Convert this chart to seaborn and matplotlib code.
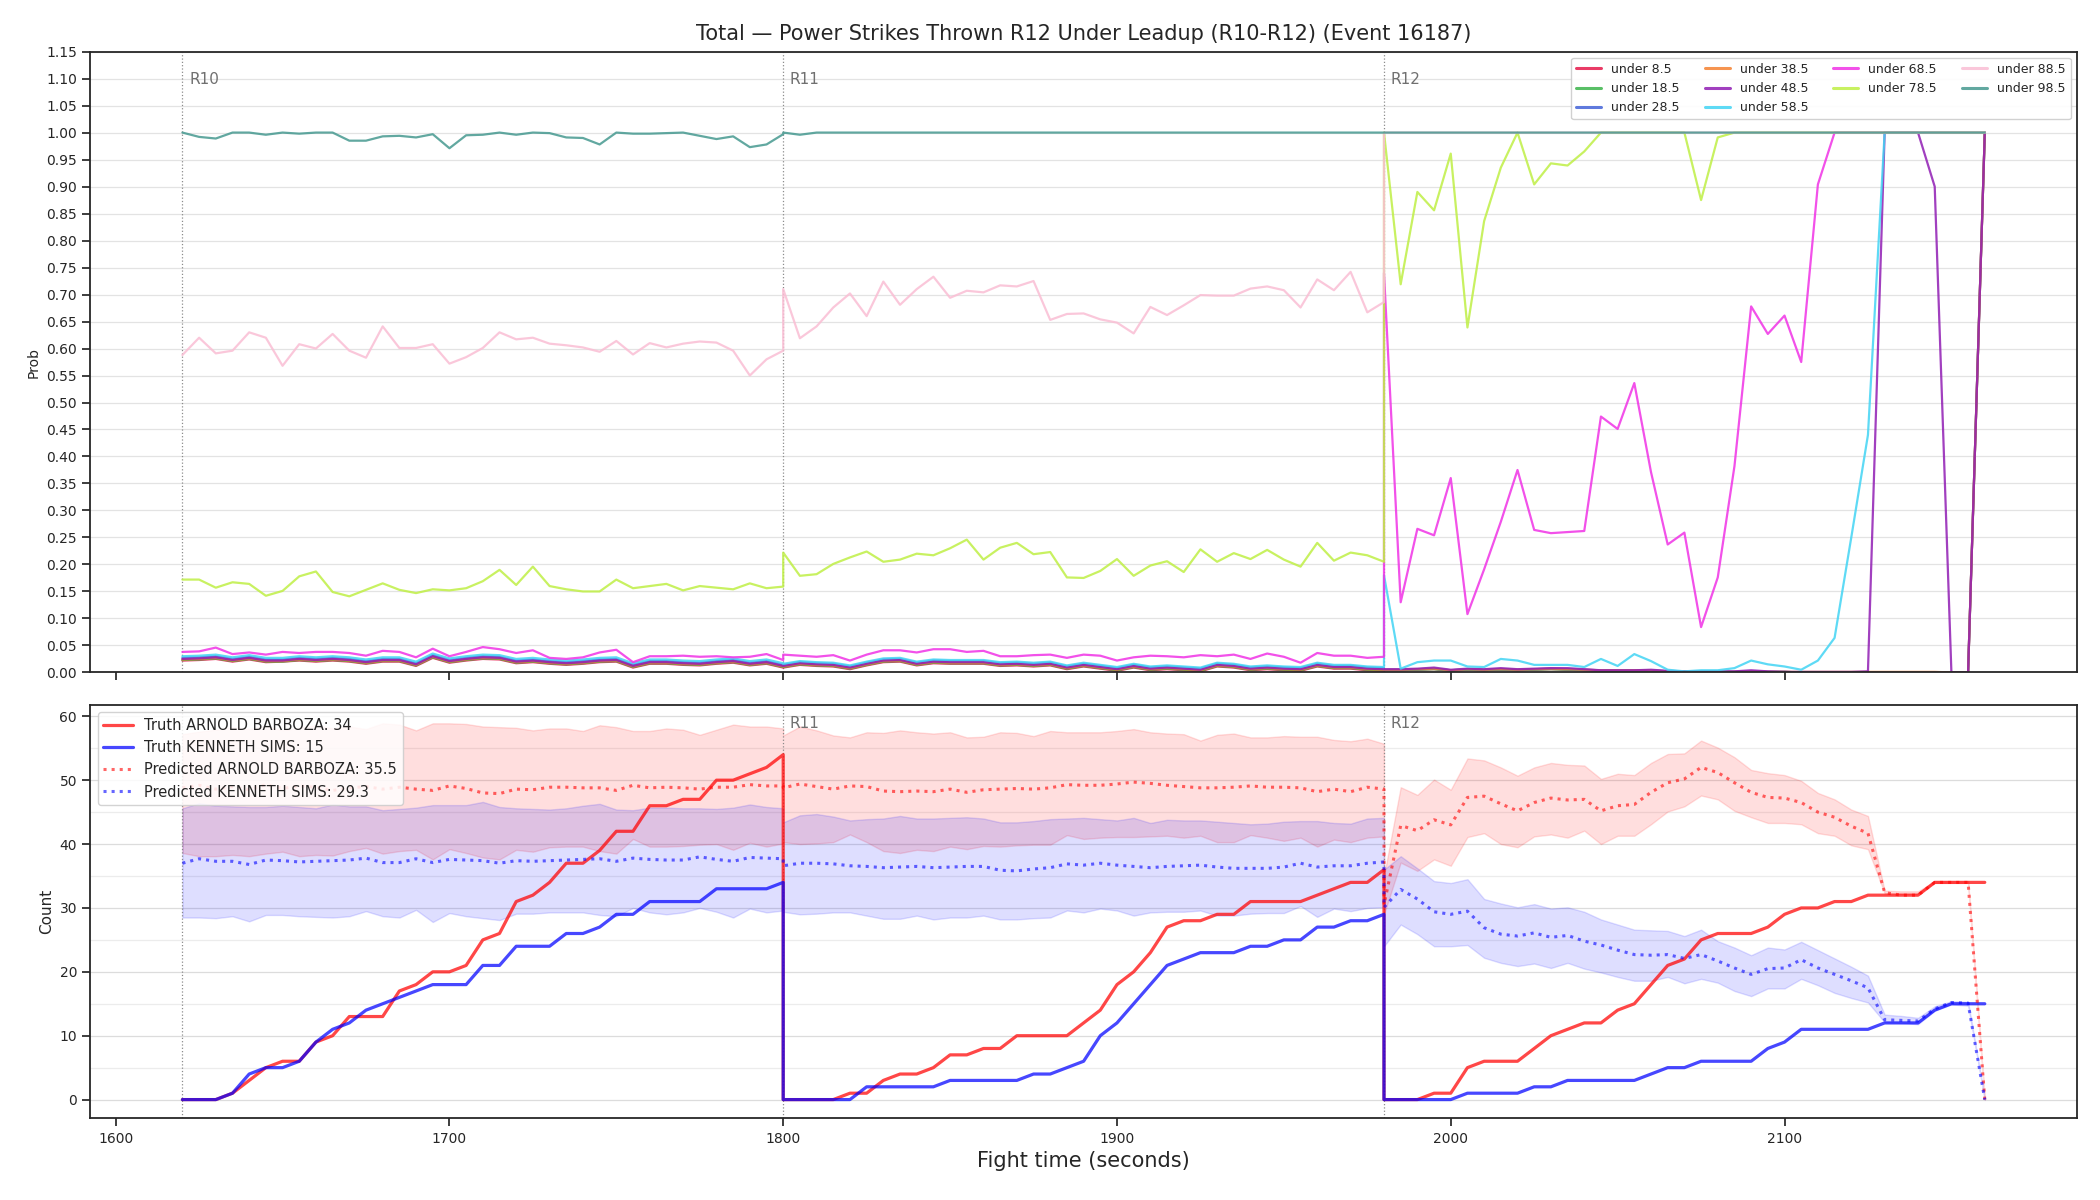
import numpy as np
import matplotlib
matplotlib.use("Agg")
import matplotlib.pyplot as plt
import seaborn as sns
from matplotlib.ticker import MultipleLocator, FormatStrFormatter

sns.set_theme(style="ticks", context="notebook")
plt.rcParams['font.family'] = ['DejaVu Sans']

# ---------------- time grid (3 rounds, 5 s samples, boundaries duplicated) -------------
t10 = np.arange(1620, 1801, 5)
t11 = np.arange(1800, 1981, 5)
t12 = np.arange(1980, 2161, 5)
times = np.concatenate([t10, t11, t12])

round_starts = [1620, 1800, 1980]
round_labels = ["R10", "R11", "R12"]

# ---------------- top panel: probabilities "under X" ----------------
under_labels = ["under 8.5", "under 18.5", "under 28.5", "under 38.5", "under 48.5",
                "under 58.5", "under 68.5", "under 78.5", "under 88.5", "under 98.5"]
under_colors = ["#e6194B", "#3cb44b", "#4363d8", "#f58231", "#911eb4",
                "#42d4f4", "#f032e6", "#bfef45", "#fabed4", "#469990"]

u8_5 = ([0.022, 0.023, 0.025, 0.020, 0.024, 0.019, 0.020, 0.022, 0.020, 0.022, 0.020, 0.016, 0.020,
         0.020, 0.012, 0.027, 0.018, 0.022, 0.025, 0.024, 0.017, 0.019, 0.016, 0.014, 0.016, 0.019,
         0.020, 0.009, 0.016, 0.016, 0.014, 0.013, 0.016, 0.018, 0.013, 0.016, 0.009] +
        [0.009, 0.014, 0.012, 0.011, 0.006, 0.013, 0.019, 0.020, 0.013, 0.017, 0.016, 0.016, 0.016,
         0.012, 0.013, 0.011, 0.013, 0.006, 0.011, 0.007, 0.003, 0.009, 0.004, 0.006, 0.004, 0.002,
         0.011, 0.009, 0.004, 0.006, 0.004, 0.003, 0.011, 0.007, 0.007, 0.004, 0.003] +
        [0.004, 0.004, 0.005, 0.006, 0.003, 0.005, 0.004, 0.005, 0.004, 0.005, 0.006, 0.005, 0.004,
         0.003, 0.003, 0.003, 0.003, 0.002, 0.001, 0.001, 0.001, 0.001, 0.002, 0.001, 0.001, 0.0,
         0.0, 0.0, 0.0, 0.0, 0.0, 0.0, 0.0, 0.0, 0.0, 0.0, 1.0])
u18_5 = ([0.023, 0.024, 0.026, 0.021, 0.025, 0.020, 0.020, 0.023, 0.021, 0.023, 0.021, 0.017, 0.021,
          0.021, 0.013, 0.028, 0.019, 0.023, 0.026, 0.025, 0.018, 0.020, 0.017, 0.015, 0.017, 0.020,
          0.021, 0.010, 0.017, 0.017, 0.015, 0.014, 0.017, 0.019, 0.014, 0.017, 0.010] +
         [0.010, 0.015, 0.013, 0.012, 0.007, 0.014, 0.020, 0.021, 0.014, 0.018, 0.017, 0.017, 0.017,
          0.013, 0.014, 0.012, 0.014, 0.007, 0.012, 0.008, 0.004, 0.010, 0.005, 0.007, 0.005, 0.003,
          0.012, 0.010, 0.005, 0.007, 0.005, 0.004, 0.012, 0.008, 0.008, 0.005, 0.004] +
         [0.004, 0.004, 0.005, 0.006, 0.003, 0.005, 0.004, 0.005, 0.004, 0.005, 0.006, 0.005, 0.004,
          0.003, 0.003, 0.003, 0.003, 0.002, 0.001, 0.001, 0.001, 0.001, 0.002, 0.001, 0.001, 0.0,
          0.0, 0.0, 0.0, 0.0, 0.0, 0.0, 0.0, 0.0, 0.0, 0.0, 1.0])
u28_5 = ([0.027, 0.028, 0.030, 0.025, 0.029, 0.024, 0.024, 0.027, 0.025, 0.027, 0.025, 0.021, 0.025,
          0.025, 0.017, 0.032, 0.023, 0.027, 0.030, 0.029, 0.022, 0.024, 0.021, 0.019, 0.021, 0.024,
          0.025, 0.014, 0.021, 0.021, 0.019, 0.018, 0.021, 0.023, 0.018, 0.021, 0.014] +
         [0.014, 0.019, 0.017, 0.016, 0.011, 0.018, 0.024, 0.025, 0.018, 0.022, 0.021, 0.021, 0.021,
          0.017, 0.018, 0.016, 0.018, 0.011, 0.016, 0.012, 0.008, 0.014, 0.009, 0.011, 0.009, 0.007,
          0.016, 0.014, 0.009, 0.011, 0.009, 0.008, 0.016, 0.012, 0.012, 0.009, 0.008] +
         [0.005, 0.005, 0.006, 0.007, 0.004, 0.006, 0.005, 0.006, 0.005, 0.006, 0.007, 0.006, 0.005,
          0.004, 0.004, 0.004, 0.004, 0.002, 0.001, 0.001, 0.001, 0.001, 0.002, 0.001, 0.001, 0.0,
          0.0, 0.0, 0.0, 0.0, 0.0, 0.0, 0.0, 0.0, 0.0, 0.0, 1.0])
u38_5 = ([0.024, 0.025, 0.027, 0.022, 0.026, 0.021, 0.021, 0.024, 0.022, 0.024, 0.022, 0.018, 0.022,
          0.022, 0.014, 0.029, 0.020, 0.024, 0.027, 0.026, 0.019, 0.021, 0.018, 0.016, 0.018, 0.021,
          0.022, 0.011, 0.018, 0.018, 0.016, 0.015, 0.018, 0.020, 0.015, 0.018, 0.011] +
         [0.011, 0.016, 0.014, 0.013, 0.008, 0.015, 0.021, 0.022, 0.015, 0.019, 0.018, 0.018, 0.018,
          0.014, 0.015, 0.013, 0.015, 0.008, 0.013, 0.009, 0.005, 0.011, 0.006, 0.008, 0.006, 0.004,
          0.013, 0.011, 0.006, 0.008, 0.006, 0.005, 0.013, 0.009, 0.009, 0.006, 0.005] +
         [0.005, 0.005, 0.006, 0.007, 0.004, 0.006, 0.005, 0.006, 0.005, 0.006, 0.007, 0.006, 0.005,
          0.004, 0.004, 0.004, 0.004, 0.002, 0.001, 0.001, 0.001, 0.001, 0.002, 0.001, 0.001, 0.001,
          0.001, 0.001, 0.001, 0.001, 0.001, 0.001, 0.001, 0.001, 0.0, 0.0, 1.0])
u48_5 = ([0.025, 0.026, 0.028, 0.023, 0.027, 0.022, 0.022, 0.025, 0.023, 0.025, 0.023, 0.019, 0.023,
          0.023, 0.015, 0.030, 0.021, 0.025, 0.028, 0.027, 0.020, 0.022, 0.019, 0.017, 0.019, 0.022,
          0.023, 0.012, 0.019, 0.019, 0.017, 0.016, 0.019, 0.021, 0.016, 0.019, 0.012] +
         [0.012, 0.017, 0.015, 0.014, 0.009, 0.016, 0.022, 0.023, 0.016, 0.020, 0.019, 0.019, 0.019,
          0.015, 0.016, 0.014, 0.016, 0.009, 0.014, 0.010, 0.006, 0.012, 0.007, 0.009, 0.007, 0.005,
          0.014, 0.012, 0.007, 0.009, 0.007, 0.006, 0.014, 0.010, 0.010, 0.007, 0.006] +
         [0.006, 0.006, 0.007, 0.009, 0.005, 0.007, 0.006, 0.008, 0.006, 0.007, 0.008, 0.008, 0.006,
          0.004, 0.004, 0.004, 0.005, 0.003, 0.002, 0.002, 0.002, 0.002, 0.004, 0.002, 0.001, 0.001,
          0.001, 0.001, 0.001, 0.002, 1.0, 1.0, 1.0, 0.90, 0.0, 0.0, 1.0])
u58_5 = ([0.030, 0.031, 0.033, 0.028, 0.032, 0.027, 0.027, 0.030, 0.028, 0.030, 0.028, 0.024, 0.028,
          0.028, 0.020, 0.035, 0.026, 0.030, 0.033, 0.032, 0.025, 0.027, 0.024, 0.022, 0.024, 0.027,
          0.028, 0.017, 0.024, 0.024, 0.022, 0.021, 0.024, 0.026, 0.021, 0.024, 0.017] +
         [0.016, 0.021, 0.019, 0.018, 0.013, 0.020, 0.026, 0.027, 0.020, 0.024, 0.023, 0.023, 0.023,
          0.019, 0.020, 0.018, 0.020, 0.013, 0.018, 0.014, 0.010, 0.016, 0.011, 0.013, 0.011, 0.009,
          0.018, 0.016, 0.011, 0.013, 0.011, 0.010, 0.018, 0.014, 0.014, 0.011, 0.010] +
         [0.18, 0.007, 0.019, 0.022, 0.022, 0.011, 0.010, 0.025, 0.022, 0.014, 0.014, 0.014, 0.010,
          0.025, 0.012, 0.034, 0.021, 0.005, 0.002, 0.004, 0.004, 0.008, 0.022, 0.015, 0.011, 0.005,
          0.022, 0.064, 0.25, 0.44, 1.0, 1.0, 1.0, 1.0, 1.0, 1.0, 1.0])
u68_5 = ([0.038, 0.039, 0.046, 0.034, 0.037, 0.033, 0.038, 0.036, 0.038, 0.038, 0.036, 0.031, 0.040,
          0.038, 0.028, 0.044, 0.030, 0.038, 0.047, 0.043, 0.036, 0.041, 0.027, 0.025, 0.028, 0.037,
          0.042, 0.019, 0.030, 0.030, 0.031, 0.029, 0.030, 0.028, 0.029, 0.034, 0.023] +
         [0.033, 0.031, 0.029, 0.032, 0.022, 0.033, 0.041, 0.041, 0.037, 0.043, 0.043, 0.038, 0.040,
          0.030, 0.030, 0.032, 0.033, 0.027, 0.033, 0.031, 0.022, 0.028, 0.031, 0.030, 0.028, 0.032,
          0.030, 0.033, 0.025, 0.035, 0.029, 0.018, 0.036, 0.031, 0.031, 0.027, 0.029] +
         [0.74, 0.130, 0.266, 0.254, 0.360, 0.108, 0.191, 0.279, 0.375, 0.264, 0.258, 0.260, 0.262,
          0.474, 0.451, 0.536, 0.371, 0.237, 0.259, 0.084, 0.176, 0.382, 0.678, 0.627, 0.661, 0.575,
          0.904, 1.0, 1.0, 1.0, 1.0, 1.0, 1.0, 1.0, 1.0, 1.0, 1.0])
u78_5 = ([0.172, 0.172, 0.157, 0.167, 0.164, 0.142, 0.151, 0.178, 0.187, 0.149, 0.141, 0.153, 0.165,
          0.153, 0.147, 0.154, 0.152, 0.156, 0.169, 0.190, 0.162, 0.196, 0.160, 0.154, 0.150, 0.150,
          0.172, 0.156, 0.160, 0.164, 0.152, 0.160, 0.157, 0.154, 0.165, 0.156, 0.159] +
         [0.222, 0.179, 0.182, 0.201, 0.213, 0.224, 0.205, 0.209, 0.220, 0.217, 0.230, 0.246, 0.209,
          0.231, 0.240, 0.219, 0.223, 0.176, 0.175, 0.188, 0.210, 0.179, 0.198, 0.206, 0.186, 0.228,
          0.205, 0.221, 0.210, 0.227, 0.209, 0.196, 0.240, 0.207, 0.222, 0.217, 0.205] +
         [1.0, 0.719, 0.890, 0.856, 0.961, 0.639, 0.836, 0.935, 1.0, 0.904, 0.943, 0.939, 0.965,
          1.0, 1.0, 1.0, 1.0, 1.0, 1.0, 0.875, 0.991, 1.0, 1.0, 1.0, 1.0, 1.0,
          1.0, 1.0, 1.0, 1.0, 1.0, 1.0, 1.0, 1.0, 1.0, 1.0, 1.0])
u88_5 = ([0.588, 0.620, 0.591, 0.596, 0.630, 0.620, 0.568, 0.608, 0.600, 0.627, 0.596, 0.583, 0.641,
          0.601, 0.601, 0.608, 0.572, 0.584, 0.601, 0.630, 0.617, 0.620, 0.609, 0.606, 0.602, 0.594,
          0.614, 0.589, 0.610, 0.602, 0.609, 0.613, 0.611, 0.596, 0.550, 0.580, 0.596] +
         [0.710, 0.619, 0.641, 0.676, 0.702, 0.660, 0.724, 0.681, 0.710, 0.733, 0.694, 0.707, 0.704,
          0.717, 0.715, 0.725, 0.653, 0.664, 0.665, 0.654, 0.648, 0.628, 0.677, 0.662, 0.680, 0.699,
          0.698, 0.698, 0.711, 0.715, 0.708, 0.676, 0.728, 0.708, 0.742, 0.667, 0.686] +
         [1.0] * 37)
u98_5 = ([1.0, 0.992, 0.989, 1.0, 1.0, 0.996, 1.0, 0.998, 1.0, 1.0, 0.985, 0.985, 0.993,
          0.994, 0.991, 0.997, 0.971, 0.995, 0.996, 1.0, 0.996, 1.0, 0.999, 0.991, 0.990, 0.978,
          1.0, 0.998, 0.998, 0.999, 1.0, 0.994, 0.988, 0.993, 0.973, 0.978, 0.997] +
         [1.0, 0.996] + [1.0] * 35 +
         [1.0] * 37)

under_series = [u8_5, u18_5, u28_5, u38_5, u48_5, u58_5, u68_5, u78_5, u88_5, u98_5]

# ---------------- bottom panel: counts ----------------
fighter_a = "ARNOLD BARBOZA"
fighter_b = "KENNETH SIMS"
final_truth_a, final_truth_b = 34, 15
final_pred_a, final_pred_b = 35.5, 29.3

truth_a = ([0, 0, 0, 1, 3, 5, 6, 6, 9, 10, 13, 13, 13, 17, 18, 20, 20, 21, 25, 26, 31, 32, 34, 37, 37,
            39, 42, 42, 46, 46, 47, 47, 50, 50, 51, 52, 54] +
           [0, 0, 0, 0, 1, 1, 3, 4, 4, 5, 7, 7, 8, 8, 10, 10, 10, 10, 12, 14, 18, 20, 23, 27, 28,
            28, 29, 29, 31, 31, 31, 31, 32, 33, 34, 34, 36] +
           [0, 0, 0, 1, 1, 5, 6, 6, 6, 8, 10, 11, 12, 12, 14, 15, 18, 21, 22, 25, 26, 26, 26, 27, 29,
            30, 30, 31, 31, 32, 32, 32, 32, 34, 34, 34, 34])
truth_b = ([0, 0, 0, 1, 4, 5, 5, 6, 9, 11, 12, 14, 15, 16, 17, 18, 18, 18, 21, 21, 24, 24, 24, 26, 26,
            27, 29, 29, 31, 31, 31, 31, 33, 33, 33, 33, 34] +
           [0, 0, 0, 0, 0, 2, 2, 2, 2, 2, 3, 3, 3, 3, 3, 4, 4, 5, 6, 10, 12, 15, 18, 21, 22,
            23, 23, 23, 24, 24, 25, 25, 27, 27, 28, 28, 29] +
           [0, 0, 0, 0, 0, 1, 1, 1, 1, 2, 2, 3, 3, 3, 3, 3, 4, 5, 5, 6, 6, 6, 6, 8, 9,
            11, 11, 11, 11, 11, 12, 12, 12, 14, 15, 15, 15])

pred_a = ([48.8, 49.2, 48.6, 49.0, 48.5, 49.3, 48.7, 49.1, 48.9, 48.4, 48.8, 49.0, 48.6, 48.9, 48.6,
           48.4, 49.1, 48.7, 48.0, 47.9, 48.6, 48.5, 48.9, 48.9, 48.8, 48.8, 48.4, 49.2, 48.8, 48.9,
           48.8, 48.6, 48.9, 48.9, 49.3, 49.1, 49.1] +
          [48.8, 49.4, 49.0, 48.6, 49.1, 49.0, 48.3, 48.2, 48.3, 48.2, 48.6, 48.1, 48.5, 48.6, 48.7,
           48.6, 48.8, 49.3, 49.2, 49.2, 49.4, 49.7, 49.5, 49.2, 49.0, 48.8, 48.8, 48.9, 49.1, 48.9,
           48.9, 48.8, 48.2, 48.6, 48.2, 48.9, 48.6] +
          [30.5, 42.9, 42.1, 43.8, 43.0, 47.3, 47.5, 46.3, 45.2, 46.5, 47.2, 46.9, 47.0, 45.2, 46.0,
           46.2, 48.1, 49.6, 50.2, 52.0, 51.2, 49.6, 48.1, 47.3, 47.2, 46.5, 45.0, 44.2, 42.8, 41.7,
           32.4, 32.0, 32.0, 34.0, 34.0, 34.0, 0.0])
pred_a_hi = ([57.2, 57.6, 57.9, 58.3, 58.0, 58.5, 57.8, 58.2, 58.6, 58.1, 58.4, 58.0, 58.9, 58.7, 57.8,
              58.9, 58.9, 58.8, 58.4, 58.3, 58.2, 57.8, 58.1, 58.1, 57.7, 58.6, 58.3, 57.7, 57.7, 58.1,
              57.9, 57.1, 57.9, 58.7, 58.4, 58.4, 58.1] +
             [57.0, 58.4, 57.8, 57.0, 56.7, 57.5, 57.4, 57.8, 57.5, 57.3, 57.5, 56.7, 56.8, 57.5, 57.4,
              56.9, 57.7, 57.5, 57.5, 57.5, 57.7, 58.0, 57.5, 57.3, 57.2, 56.2, 57.1, 57.3, 56.7, 56.7,
              56.9, 56.8, 56.8, 56.3, 56.1, 56.5, 55.7] +
             [35.0, 48.9, 47.7, 50.1, 48.5, 53.4, 53.1, 52.0, 50.7, 52.0, 52.7, 52.4, 52.3, 50.2, 51.0,
              50.8, 52.7, 54.1, 54.2, 56.2, 55.1, 53.6, 51.6, 51.1, 50.8, 49.9, 48.0, 47.0, 45.4, 44.4,
              32.7, 32.6, 32.6, 34.2, 34.2, 34.2, 0.0])
pred_a_lo = ([38.6, 38.1, 38.1, 38.3, 38.1, 38.5, 38.8, 38.1, 38.3, 38.2, 38.9, 39.4, 38.5, 38.9, 39.1,
              37.6, 39.2, 38.6, 37.9, 37.6, 39.1, 38.8, 39.5, 39.6, 39.6, 38.9, 38.5, 40.8, 39.6, 39.6,
              39.7, 39.9, 40.0, 39.1, 40.2, 39.6, 40.1] +
             [40.3, 40.0, 40.1, 40.3, 41.5, 40.3, 38.9, 38.6, 39.1, 38.9, 39.6, 39.2, 39.7, 39.6, 39.8,
              39.9, 39.9, 41.4, 40.8, 41.0, 41.1, 41.1, 41.2, 41.3, 41.0, 41.3, 40.3, 40.3, 41.4, 41.0,
              40.5, 41.0, 39.6, 40.7, 40.3, 41.0, 41.2] +
             [29.0, 37.1, 35.8, 37.6, 36.6, 41.1, 41.7, 40.0, 39.5, 41.2, 41.5, 41.0, 42.1, 40.0, 41.3,
              41.3, 43.1, 45.1, 45.9, 47.6, 47.0, 45.2, 44.2, 43.3, 43.3, 43.1, 41.7, 41.3, 39.8, 39.2,
              32.3, 32.2, 32.2, 33.9, 33.9, 33.9, 0.0])

pred_b = ([37.0, 37.7, 37.3, 37.3, 36.8, 37.5, 37.4, 37.2, 37.3, 37.4, 37.5, 37.8, 37.1, 37.1, 37.7,
           37.1, 37.6, 37.5, 37.4, 37.0, 37.4, 37.3, 37.4, 37.5, 37.6, 37.7, 37.3, 37.8, 37.6, 37.5,
           37.5, 38.0, 37.6, 37.3, 37.9, 37.8, 37.7] +
          [36.6, 37.0, 37.0, 36.9, 36.6, 36.5, 36.3, 36.4, 36.5, 36.3, 36.4, 36.5, 36.5, 35.9, 35.8,
           36.1, 36.3, 36.9, 36.7, 37.0, 36.7, 36.5, 36.3, 36.5, 36.6, 36.7, 36.4, 36.2, 36.2, 36.2,
           36.4, 37.0, 36.4, 36.6, 36.6, 37.0, 37.2] +
          [30.1, 32.9, 31.4, 29.4, 29.0, 29.5, 26.9, 25.9, 25.6, 26.1, 25.4, 25.7, 24.8, 24.2, 23.4,
           22.7, 22.6, 22.7, 22.1, 22.7, 21.7, 20.6, 19.6, 20.5, 20.6, 21.9, 20.6, 19.6, 18.6, 17.5,
           12.5, 12.4, 12.3, 14.2, 15.2, 15.1, 0.0])
pred_b_hi = ([45.6, 46.4, 46.0, 45.9, 45.8, 45.8, 46.0, 45.8, 45.6, 46.2, 45.9, 45.9, 45.3, 45.5, 45.7,
              46.1, 46.1, 46.1, 46.6, 45.8, 45.6, 45.5, 45.4, 45.6, 46.0, 46.3, 45.4, 45.3, 45.7, 45.7,
              45.6, 45.6, 45.5, 45.7, 46.2, 45.8, 45.6] +
             [43.4, 44.5, 44.7, 44.3, 43.7, 43.9, 44.0, 44.4, 44.0, 44.0, 44.1, 44.2, 44.0, 43.4, 43.4,
              43.6, 43.9, 44.0, 44.1, 43.9, 43.7, 44.1, 43.3, 43.8, 43.7, 43.7, 43.5, 43.3, 43.1, 43.2,
              43.5, 43.6, 43.6, 43.3, 43.2, 44.0, 44.1] +
             [36.0, 38.1, 36.2, 34.2, 33.9, 34.5, 31.4, 30.7, 30.1, 30.6, 29.9, 30.1, 29.4, 28.2, 27.4,
              26.6, 26.5, 26.4, 25.6, 26.6, 24.8, 23.8, 22.6, 23.8, 23.5, 24.7, 23.4, 22.1, 20.8, 19.4,
              13.3, 13.1, 12.8, 14.6, 15.4, 15.3, 0.0])
pred_b_lo = ([28.5, 28.5, 28.4, 28.7, 27.9, 28.9, 28.9, 28.7, 28.6, 28.5, 28.7, 29.5, 28.7, 28.5, 29.7,
              27.8, 29.2, 28.7, 28.4, 28.1, 29.1, 29.1, 29.3, 29.3, 29.3, 28.9, 28.7, 30.0, 29.3, 29.0,
              29.3, 30.0, 29.4, 28.5, 29.9, 29.3, 29.6] +
             [29.4, 29.0, 29.1, 29.3, 29.3, 28.8, 28.3, 28.3, 28.8, 28.2, 28.5, 28.5, 28.8, 28.2, 28.2,
              28.4, 28.5, 29.6, 29.3, 29.9, 29.6, 28.8, 29.3, 29.4, 29.4, 29.6, 28.8, 28.8, 29.1, 29.2,
              29.2, 30.3, 28.6, 29.9, 29.5, 30.0, 30.1] +
             [24.0, 27.4, 25.9, 24.0, 24.0, 24.2, 22.2, 21.4, 20.9, 21.3, 20.6, 21.4, 20.5, 19.9, 19.2,
              18.6, 18.6, 19.2, 18.2, 18.9, 18.3, 17.0, 16.2, 17.4, 17.4, 18.9, 17.9, 16.7, 15.9, 15.2,
              12.1, 12.0, 11.8, 13.9, 14.9, 14.7, 0.0])

# ---------------- figure ----------------
fig, (ax1, ax2) = plt.subplots(2, 1, figsize=(21, 12), dpi=100, sharex=True,
                               gridspec_kw=dict(height_ratios=[3, 2]))
fig.subplots_adjust(left=0.043, right=0.989, top=0.957, bottom=0.068, hspace=0.062)

for lab, vals, col in zip(under_labels, under_series, under_colors):
    sns.lineplot(x=times, y=np.array(vals), ax=ax1, color=col, lw=1.6, alpha=0.85,
                 estimator=None, sort=False, label=lab)

ax1.set_ylim(0, 1.15)
ax1.yaxis.set_major_locator(MultipleLocator(0.05))
ax1.yaxis.set_major_formatter(FormatStrFormatter('%.2f'))
ax1.grid(axis='y', color='#e3e3e3', lw=0.9)
ax1.set_axisbelow(True)
ax1.set_ylabel("Prob", fontsize=10)
ax1.set_xlabel("")
ax1.set_title("Total \u2014 Power Strikes Thrown R12 Under Leadup (R10-R12) (Event 16187)",
              fontsize=15, pad=8)
leg1 = ax1.legend(loc='upper right', ncol=4, fontsize=9, framealpha=0.9)
for h in leg1.get_lines():
    h.set_linewidth(2.2)

# bands
ax2.fill_between(times, pred_a_lo, pred_a_hi, color='red', alpha=0.13, lw=1)
ax2.fill_between(times, pred_b_lo, pred_b_hi, color='blue', alpha=0.13, lw=1)

sns.lineplot(x=times, y=np.array(truth_a, dtype=float), ax=ax2, color='red', lw=2.3, alpha=0.72,
             estimator=None, sort=False, label=f"Truth {fighter_a}: {final_truth_a}")
sns.lineplot(x=times, y=np.array(truth_b, dtype=float), ax=ax2, color='blue', lw=2.3, alpha=0.72,
             estimator=None, sort=False, label=f"Truth {fighter_b}: {final_truth_b}")
sns.lineplot(x=times, y=np.array(pred_a), ax=ax2, color='red', lw=2.2, alpha=0.6, ls=':',
             estimator=None, sort=False, label=f"Predicted {fighter_a}: {final_pred_a}")
sns.lineplot(x=times, y=np.array(pred_b), ax=ax2, color='blue', lw=2.2, alpha=0.6, ls=':',
             estimator=None, sort=False, label=f"Predicted {fighter_b}: {final_pred_b}")

ax2.yaxis.set_major_locator(MultipleLocator(10))
ax2.yaxis.set_minor_locator(MultipleLocator(5))
ax2.tick_params(axis='y', which='minor', length=0)
ax2.grid(axis='y', which='major', color='#dcdcdc', lw=0.9)
ax2.grid(axis='y', which='minor', color='#ececec', lw=0.9)
ax2.set_axisbelow(True)
ax2.set_ylabel("Count", fontsize=11)
ax2.set_xlabel("Fight time (seconds)", fontsize=15)
ax2.xaxis.set_major_locator(MultipleLocator(100))
ax2.legend(loc='upper left', fontsize=10.5, framealpha=0.85)

for ax in (ax1, ax2):
    ax.tick_params(labelsize=10)
    for s in ax.spines.values():
        s.set_visible(True)
        s.set_linewidth(1.3)
        s.set_color('#262626')
    for t0, rl in zip(round_starts, round_labels):
        ax.axvline(t0, color='gray', ls=':', lw=0.9, alpha=0.9, zorder=1)
        # in the lower panel the first round label sits under the legend (hidden)
        if ax is ax2 and rl == "R10":
            continue
        ax.text(t0 + 2, 0.955, rl, transform=ax.get_xaxis_transform(), color='#707070',
                fontsize=11, ha='left', va='center', zorder=1)

ax2.set_xlim(1592.4, 2187.6)

fig.savefig("out.png", dpi=100)
